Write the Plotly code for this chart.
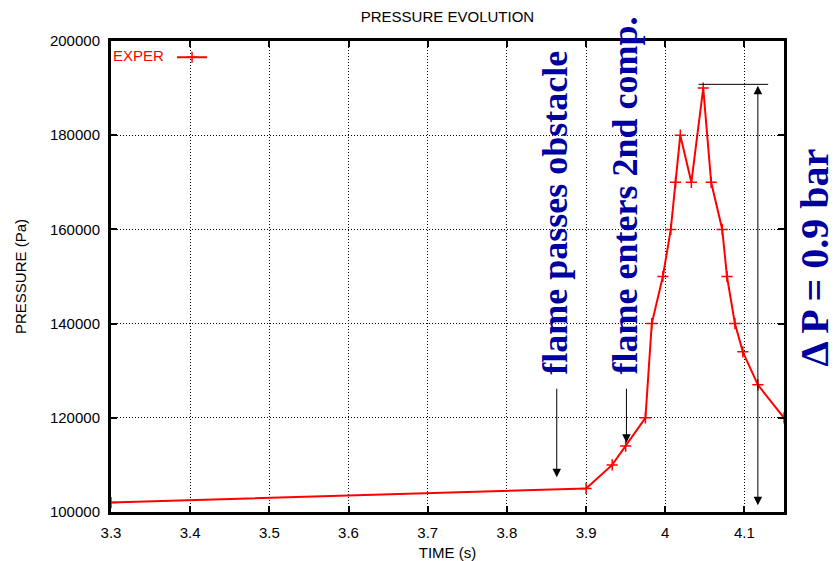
import plotly.graph_objects as go

# ---- data ----
time_s = [3.3, 3.9, 3.933, 3.95, 3.975, 3.983, 3.997, 4.007, 4.013, 4.019,
          4.033, 4.048, 4.058, 4.072, 4.078, 4.088, 4.098, 4.117, 4.15]
pressure_pa = [102000, 105000, 110000, 114000, 120000, 140000, 150000, 160000,
               170000, 180000, 170000, 190000, 170000, 160000, 150000, 140000,
               134000, 127000, 120000]

x_ticks = [3.3, 3.4, 3.5, 3.6, 3.7, 3.8, 3.9, 4.0, 4.1]
x_tick_labels = ["3.3", "3.4", "3.5", "3.6", "3.7", "3.8", "3.9", "4", "4.1"]
y_ticks = [100000, 120000, 140000, 160000, 180000, 200000]
y_tick_labels = ["100000", "120000", "140000", "160000", "180000", "200000"]

# annotation anchors (data coordinates)
note_texts = ["flame passes obstacle", "flame enters 2nd comp."]
note_x = [3.8606, 3.9488]
note_base_y = 128700
arrow_x = [3.863, 3.951]
arrow_tail_y = [126500, 126500]
arrow_head_y = [107400, 114700]
dp_x = 4.117
dp_top = 190500
dp_bottom = 101100
dp_bar_x = [4.042, 4.130]
dp_bar_y = 190800

BLUE = "#0000A0"
SANS = "Liberation Sans, Arial, sans-serif"
SERIF = "Liberation Serif, Times New Roman, serif"

fig = go.Figure()
fig.add_trace(go.Scatter(
    x=time_s, y=pressure_pa, mode="lines+markers", name=" ",
    line=dict(color="#ff0000", width=2),
    marker=dict(symbol="cross-thin", size=8, line=dict(color="#ff0000", width=1.5)),
    showlegend=True,
))

annotations = []
for t, xx in zip(note_texts, note_x):
    annotations.append(dict(
        x=xx, y=note_base_y, xref="x", yref="y", text=t, showarrow=False,
        textangle=-90, xanchor="center", yanchor="bottom",
        font=dict(family=SERIF, size=36, color=BLUE, weight="bold"),
    ))
for ax_, ty, hy in zip(arrow_x, arrow_tail_y, arrow_head_y):
    annotations.append(dict(
        x=ax_, y=hy, ax=ax_, ay=ty, xref="x", yref="y", axref="x", ayref="y",
        text="", showarrow=True, arrowhead=2, arrowsize=1.7, arrowwidth=1,
        arrowcolor="#000000", standoff=0,
    ))
annotations.append(dict(
    x=dp_x, y=dp_top, ax=dp_x, ay=dp_bottom, xref="x", yref="y", axref="x", ayref="y",
    text="", showarrow=True, arrowhead=2, startarrowhead=2, arrowside="end+start",
    arrowsize=1.7, startarrowsize=1.7, arrowwidth=1, arrowcolor="#000000",
    standoff=0, startstandoff=0,
))
annotations.append(dict(
    x=1.046, y=0.54, xref="paper", yref="paper", text="\u0394 P = 0.9 bar",
    showarrow=False, textangle=-90, xanchor="center", yanchor="middle",
    font=dict(family=SERIF, size=40, color=BLUE, weight="bold"),
))

fig.add_shape(type="line", x0=dp_bar_x[0], x1=dp_bar_x[1], y0=dp_bar_y, y1=dp_bar_y,
              xref="x", yref="y", line=dict(color="#000000", width=1))

axis_common = dict(
    showline=True, linecolor="black", linewidth=3, mirror="ticks",
    ticks="inside", ticklen=6, tickwidth=2, tickcolor="black",
    showgrid=True, gridcolor="black", gridwidth=1, griddash="1px,2px",
    zeroline=False, tickfont=dict(family=SANS, size=15, color="black"),
    automargin=False,
)

fig.update_layout(
    width=837, height=561,
    margin=dict(l=111, r=53, t=41, b=49),
    paper_bgcolor="white", plot_bgcolor="white",
    title=dict(text="PRESSURE EVOLUTION", x=0.5346, xanchor="center", y=0.97, yanchor="middle",
               font=dict(family=SANS, size=15, color="black")),
    xaxis=dict(range=[3.3, 4.15], tickvals=x_ticks, ticktext=x_tick_labels, ticklabelstandoff=5,
               title=dict(text="TIME (s)", font=dict(family=SANS, size=15, color="black"), standoff=9),
               **axis_common),
    yaxis=dict(range=[100000, 200000], tickvals=y_ticks, ticktext=y_tick_labels, ticklabelstandoff=5,
               title=dict(text="PRESSURE (Pa)", font=dict(family=SANS, size=15, color="black"), standoff=20),
               **axis_common),
    legend=dict(x=0.0, y=1.0, xanchor="left", yanchor="top", bgcolor="rgba(0,0,0,0)",
                title=dict(text="EXPER", side="left", font=dict(family=SANS, size=15, color="#ff0000")),
                font=dict(family=SANS, size=15, color="#ff0000")),
    annotations=annotations,
    showlegend=True,
)

fig.write_html("out.html")
